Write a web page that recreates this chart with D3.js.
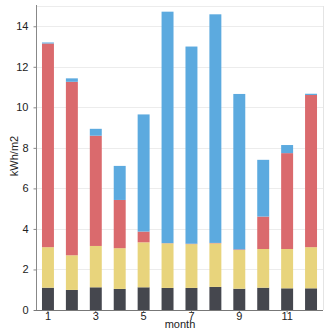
<!DOCTYPE html>
<html>
<head>
<meta charset="utf-8">
<script src="https://cdn.jsdelivr.net/npm/d3@7"></script>
<style>
  body { margin: 0; background: #fff; }
  text { font-family: "Liberation Sans", Arial, sans-serif; }
</style>
</head>
<body>
<svg width="331" height="333"></svg>
<script>
var months = [1, 2, 3, 4, 5, 6, 7, 8, 9, 10, 11, 12];
var monthLabels = [1, 3, 5, 7, 9, 11];
var yTicks = [0, 2, 4, 6, 8, 10, 12, 14];

// stacked components, bottom to top
var base = [1.10, 0.99, 1.12, 1.04, 1.12, 1.09, 1.09, 1.14, 1.05, 1.10, 1.07, 1.07];
var second = [2.00, 1.71, 2.04, 2.01, 2.22, 2.20, 2.16, 2.15, 1.91, 1.91, 1.94, 2.03];
var heating = [10.05, 8.56, 5.44, 2.38, 0.53, 0.01, 0.02, 0.02, 0.03, 1.60, 4.73, 7.51];
var cooling = [0.05, 0.17, 0.34, 1.68, 5.78, 11.42, 9.73, 11.28, 7.67, 2.80, 0.40, 0.06];

var keys = ["base", "second", "heating", "cooling"];
var colors = ["#45474e", "#e8d47c", "#da6a6d", "#5caadf"];

var rows = months.map(function(m, i) {
    return {month: m, base: base[i], second: second[i], heating: heating[i], cooling: cooling[i]};
});

var svg = d3.select("svg");
var plotL = 36, plotR = 323, plotT = 6, plotB = 310;

var x = d3.scaleBand().domain(months).range([plotL, plotR]).paddingInner(0.5).paddingOuter(0.25);
var y = d3.scaleLinear().domain([0, 15]).range([plotB, plotT]);

// grid
svg.append("g").selectAll("line").data(yTicks.slice(1).concat([15])).enter().append("line")
    .attr("x1", plotL).attr("x2", plotR)
    .attr("y1", function(d) { return Math.round(y(d)) + 0.5; })
    .attr("y2", function(d) { return Math.round(y(d)) + 0.5; })
    .attr("stroke", "#ececec").attr("stroke-width", 1);
svg.append("line").attr("x1", plotR + 0.5).attr("x2", plotR + 0.5)
    .attr("y1", plotT).attr("y2", plotB).attr("stroke", "#e4e4e4");

var stack = d3.stack().keys(keys)(rows);

svg.append("g").selectAll("g").data(stack).enter().append("g")
    .attr("fill", function(d, i) { return colors[i]; })
    .selectAll("rect").data(function(d) { return d; }).enter().append("rect")
    .attr("x", function(d) { return x(d.data.month); })
    .attr("width", x.bandwidth())
    .attr("y", function(d) { return y(d[1]); })
    .attr("height", function(d) { return y(d[0]) - y(d[1]); });

// axes
var yAxis = svg.append("g").attr("transform", "translate(" + (plotL + 0.5) + ",0)")
    .call(d3.axisLeft(y).tickValues(yTicks).tickSize(3).tickPadding(5));
yAxis.select(".domain").attr("stroke", "#888").attr("d", "M0," + (plotT - 1) + "V" + plotB);
yAxis.selectAll(".tick line").attr("stroke", "#888");
yAxis.selectAll("text").attr("font-size", 11).attr("fill", "#222");

var xAxis = svg.append("g").attr("transform", "translate(0," + (plotB + 0.5) + ")")
    .call(d3.axisBottom(x).tickValues(monthLabels).tickSize(2).tickPadding(0));
xAxis.select(".domain").attr("stroke", "#777").attr("d", "M" + (plotL - 2) + ",0H" + plotR);
xAxis.selectAll(".tick line").attr("stroke", "#777");
xAxis.selectAll("text").attr("font-size", 11).attr("fill", "#222");

svg.append("text").attr("x", 180).attr("y", 328).attr("text-anchor", "middle")
    .attr("font-size", 11).attr("fill", "#222").text("month");
svg.append("text").attr("transform", "translate(18,156) rotate(-90)").attr("text-anchor", "middle")
    .attr("font-size", 11).attr("fill", "#222").text("kWh/m2");
</script>
</body>
</html>
